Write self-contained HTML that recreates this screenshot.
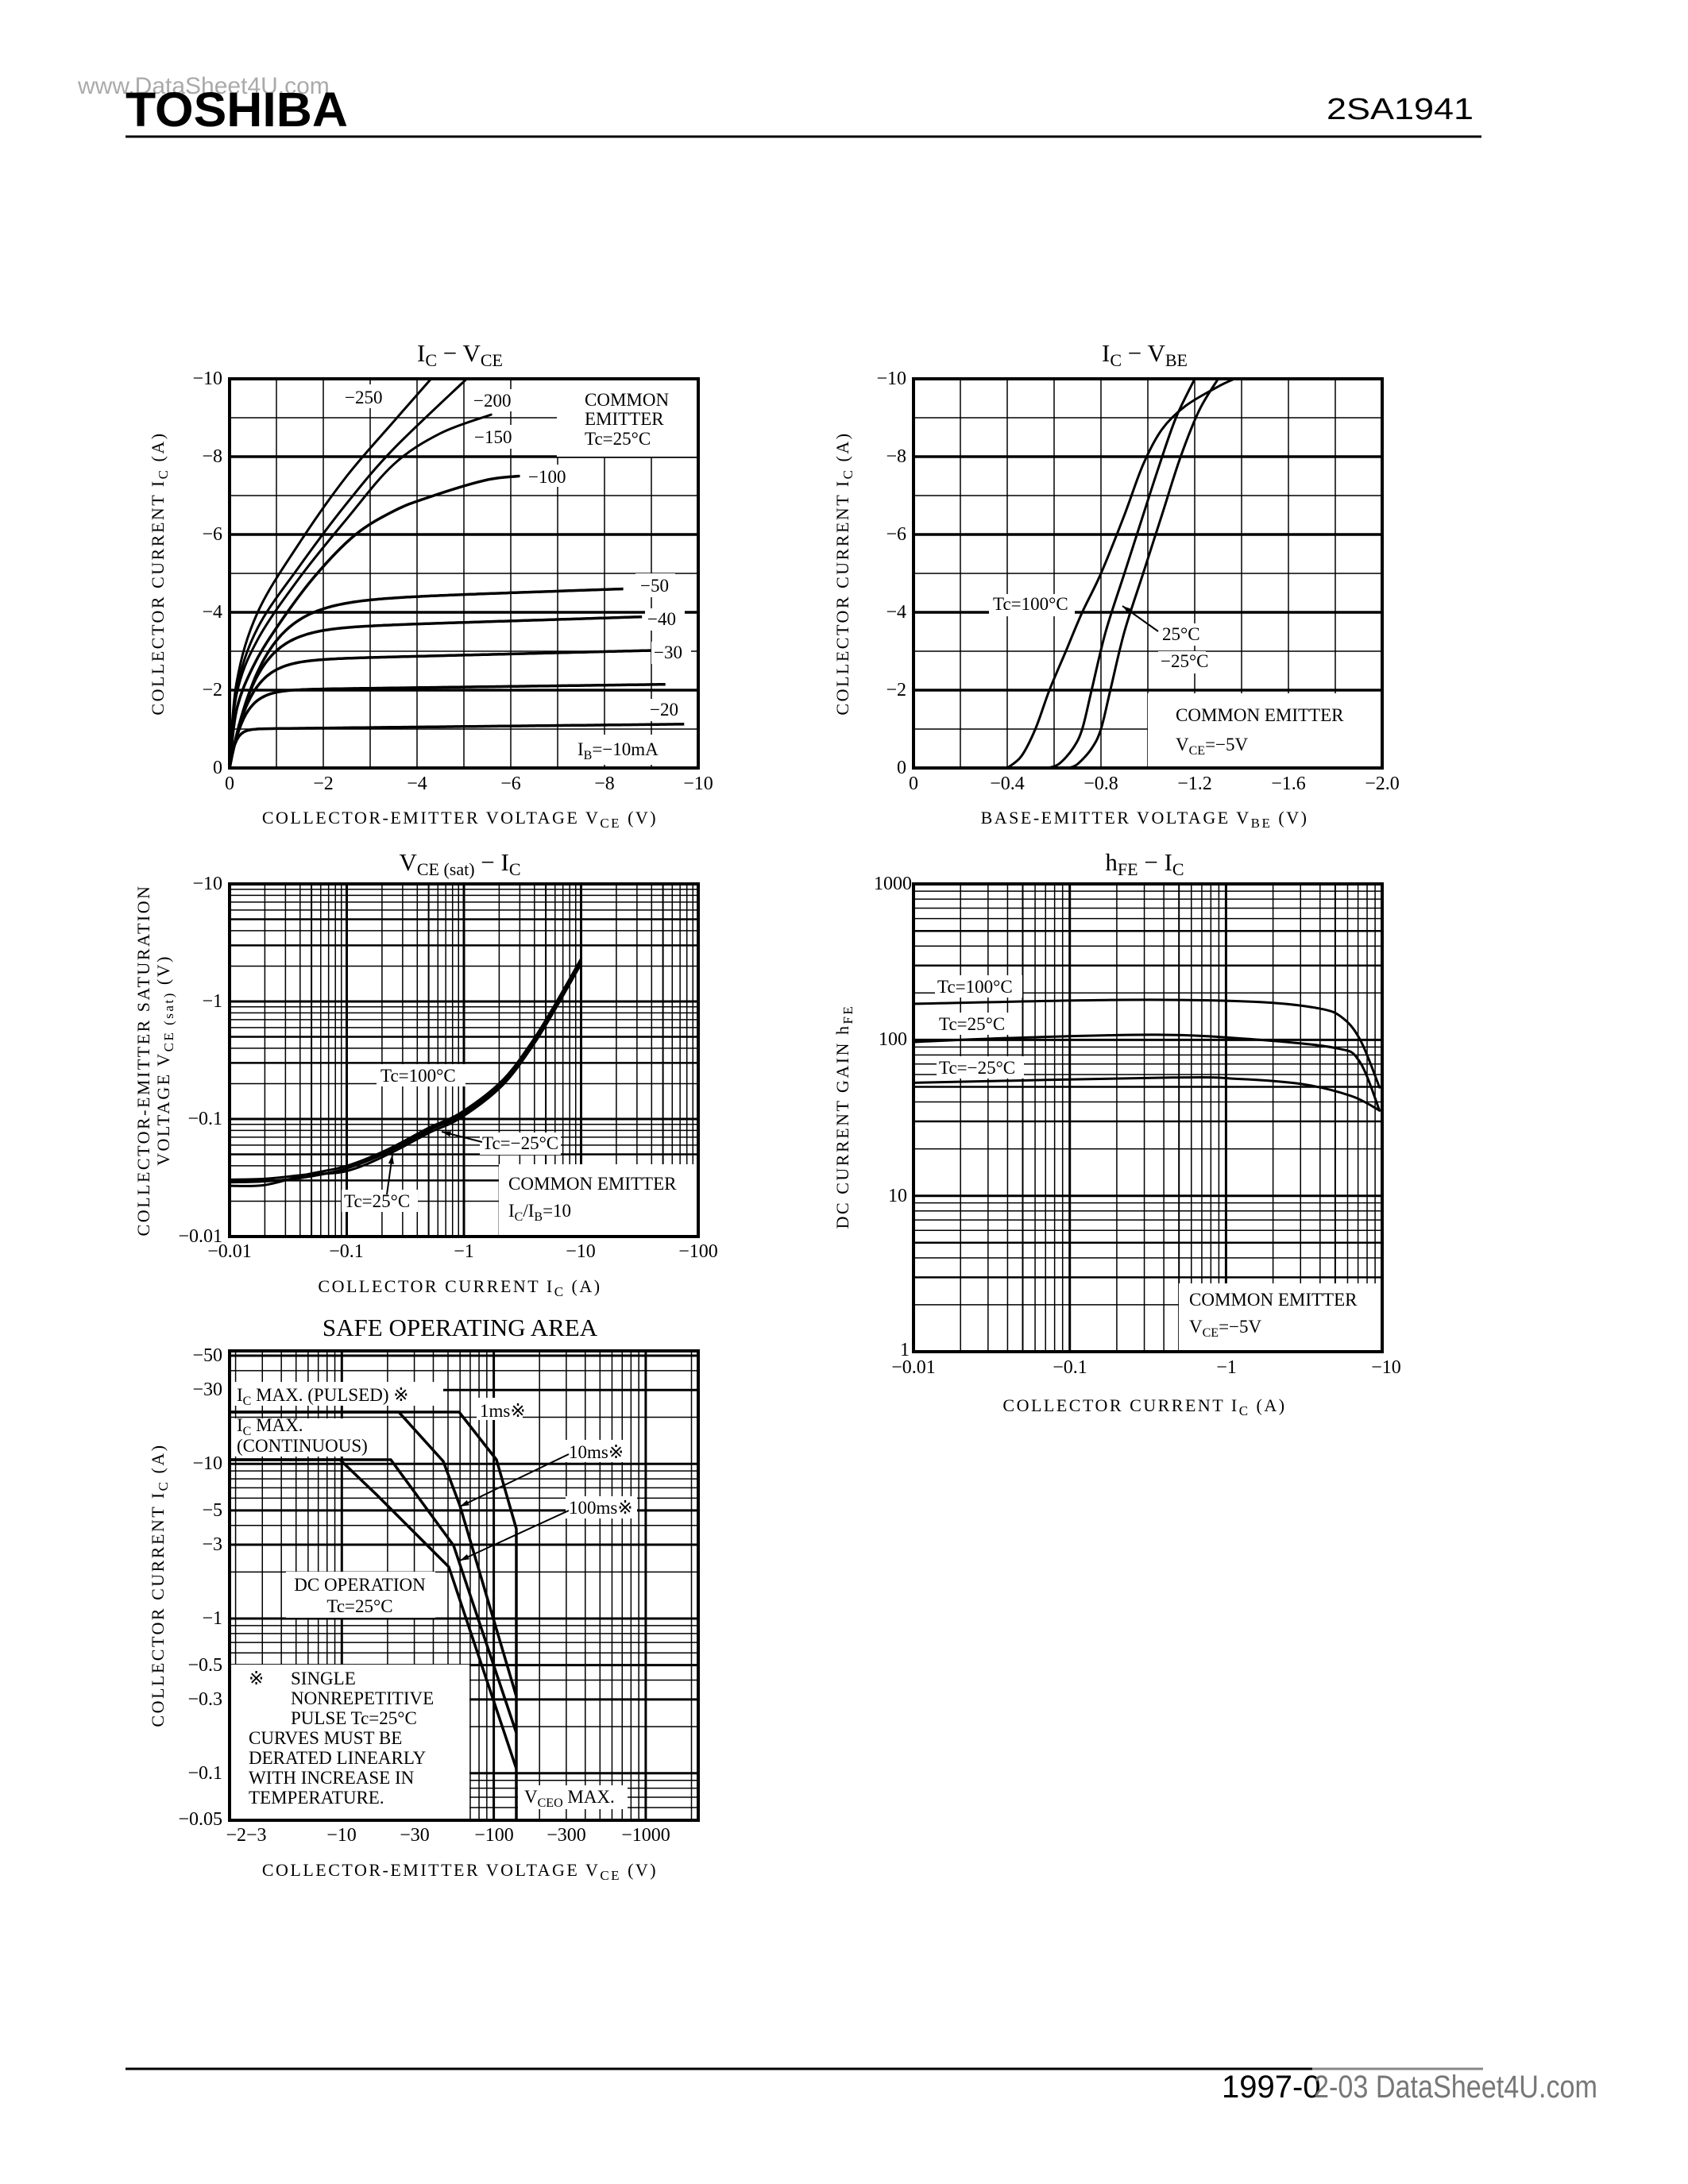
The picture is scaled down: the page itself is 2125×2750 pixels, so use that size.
<!DOCTYPE html>
<html><head><meta charset="utf-8">
<style>
html,body{margin:0;padding:0;background:#fff;}
svg{display:block;}
text{font-family:"Liberation Serif",serif;fill:#000;}
.t{font-size:23px;}
.tk{font-size:24px;}
.ttl{font-size:31px;}
.ax{font-size:22px;letter-spacing:2.5px;}
.sans{font-family:"Liberation Sans",sans-serif;}
</style></head>
<body>
<svg id="s" width="2125" height="2750" viewBox="0 0 2125 2750" xmlns="http://www.w3.org/2000/svg">
<rect width="2125" height="2750" fill="#fff"/>
<g id="g"></g>
<!-- header -->
<text x="98" y="118" class="sans" font-size="30" fill="#aaa" style="fill:#aaa">www.DataSheet4U.com</text>
<text x="158" y="159" class="sans" font-size="61" font-weight="bold" textLength="280" lengthAdjust="spacingAndGlyphs">TOSHIBA</text>
<text x="1670" y="150" class="sans" font-size="38" textLength="185" lengthAdjust="spacingAndGlyphs">2SA1941</text>
<line x1="158" y1="172" x2="1865" y2="172" stroke="#000" stroke-width="3"/>
<!-- footer -->
<line x1="158" y1="2605" x2="1652" y2="2605" stroke="#000" stroke-width="3"/>
<line x1="1652" y1="2605" x2="1867" y2="2605" stroke="#888" stroke-width="3"/>
<text x="1538" y="2641" class="sans" font-size="40">1997-0</text>
<text x="1654" y="2641" class="sans" font-size="40" style="fill:#777" textLength="357" lengthAdjust="spacingAndGlyphs">2-03 DataSheet4U.com</text>

<!-- Plot1 texts -->
<text x="579" y="455" class="ttl" text-anchor="middle">I<tspan font-size="22" dy="6">C</tspan><tspan dy="-6"> − V</tspan><tspan font-size="22" dy="6">CE</tspan></text>
<g class="tk" text-anchor="end">
<text x="280" y="484">−10</text><text x="280" y="582">−8</text><text x="280" y="680">−6</text><text x="280" y="778">−4</text><text x="280" y="876">−2</text><text x="280" y="974">0</text>
</g>
<g class="tk" text-anchor="middle">
<text x="289" y="994">0</text><text x="407" y="994">−2</text><text x="525" y="994">−4</text><text x="643" y="994">−6</text><text x="761" y="994">−8</text><text x="879" y="994">−10</text>
</g>
<text class="ax" text-anchor="middle" x="579" y="1037">COLLECTOR-EMITTER VOLTAGE   V<tspan font-size="17" dy="5">CE</tspan><tspan dy="-5">   (V)</tspan></text>
<text class="ax" text-anchor="middle" transform="translate(206,722) rotate(-90)">COLLECTOR  CURRENT    I<tspan font-size="17" dy="5">C</tspan><tspan dy="-5">    (A)</tspan></text>
<g class="t">
<text x="434" y="508">−250</text><text x="596" y="512">−200</text><text x="597" y="558">−150</text><text x="665" y="608">−100</text>
<text x="736" y="511">COMMON</text><text x="736" y="535">EMITTER</text><text x="736" y="560">Tc=25°C</text>
<text x="806" y="745">−50</text><text x="815" y="787">−40</text><text x="823" y="829">−30</text><text x="818" y="901">−20</text>
<text x="727" y="951">I<tspan font-size="16" dy="5">B</tspan><tspan dy="-5">=−10mA</tspan></text>
</g>

<!-- Plot2 texts -->
<text x="1441" y="455" class="ttl" text-anchor="middle">I<tspan font-size="22" dy="6">C</tspan><tspan dy="-6"> − V</tspan><tspan font-size="22" dy="6">BE</tspan></text>
<g class="tk" text-anchor="end">
<text x="1141" y="484">−10</text><text x="1141" y="582">−8</text><text x="1141" y="680">−6</text><text x="1141" y="778">−4</text><text x="1141" y="876">−2</text><text x="1141" y="974">0</text>
</g>
<g class="tk" text-anchor="middle">
<text x="1150" y="994">0</text><text x="1268" y="994">−0.4</text><text x="1386" y="994">−0.8</text><text x="1504" y="994">−1.2</text><text x="1622" y="994">−1.6</text><text x="1740" y="994">−2.0</text>
</g>
<text class="ax" text-anchor="middle" x="1441" y="1037">BASE-EMITTER VOLTAGE   V<tspan font-size="17" dy="5">BE</tspan><tspan dy="-5">   (V)</tspan></text>
<text class="ax" text-anchor="middle" transform="translate(1068,722) rotate(-90)">COLLECTOR  CURRENT    I<tspan font-size="17" dy="5">C</tspan><tspan dy="-5">    (A)</tspan></text>
<g class="t">
<text x="1250" y="768">Tc=100°C</text><text x="1463" y="806">25°C</text><text x="1461" y="840">−25°C</text>
<text x="1480" y="908">COMMON EMITTER</text>
<text x="1480" y="945">V<tspan font-size="16" dy="5">CE</tspan><tspan dy="-5">=−5V</tspan></text>
</g>

<!-- Plot3 texts -->
<text x="579" y="1096" class="ttl" text-anchor="middle">V<tspan font-size="22" dy="6">CE (sat)</tspan><tspan dy="-6"> − I</tspan><tspan font-size="22" dy="6">C</tspan></text>
<g class="tk" text-anchor="end">
<text x="280" y="1120">−10</text><text x="280" y="1268">−1</text><text x="280" y="1416">−0.1</text><text x="280" y="1564">−0.01</text>
</g>
<g class="tk" text-anchor="middle">
<text x="289" y="1583">−0.01</text><text x="436" y="1583">−0.1</text><text x="584" y="1583">−1</text><text x="731" y="1583">−10</text><text x="879" y="1583">−100</text>
</g>
<text class="ax" text-anchor="middle" x="579" y="1627">COLLECTOR CURRENT   I<tspan font-size="17" dy="5">C</tspan><tspan dy="-5">   (A)</tspan></text>
<text class="ax" text-anchor="middle" transform="translate(188,1335) rotate(-90)">COLLECTOR-EMITTER SATURATION</text>
<text class="ax" text-anchor="middle" transform="translate(213,1335) rotate(-90)">VOLTAGE    V<tspan font-size="17" dy="5">CE (sat)</tspan><tspan dy="-5">    (V)</tspan></text>
<g class="t">
<text x="479" y="1362">Tc=100°C</text>
<text x="607" y="1447">Tc=−25°C</text>
<text x="433" y="1520">Tc=25°C</text>
<text x="640" y="1498">COMMON EMITTER</text>
<text x="640" y="1532">I<tspan font-size="16" dy="5">C</tspan><tspan dy="-5">/I</tspan><tspan font-size="16" dy="5">B</tspan><tspan dy="-5">=10</tspan></text>
</g>

<!-- Plot4 texts -->
<text x="1441" y="1096" class="ttl" text-anchor="middle">h<tspan font-size="22" dy="6">FE</tspan><tspan dy="-6"> − I</tspan><tspan font-size="22" dy="6">C</tspan></text>
<g class="tk" text-anchor="end">
<text x="1148" y="1120">1000</text><text x="1142" y="1316">100</text><text x="1142" y="1513">10</text><text x="1145" y="1707">1</text>
</g>
<g class="tk" text-anchor="middle">
<text x="1150" y="1729">−0.01</text><text x="1347" y="1729">−0.1</text><text x="1544" y="1729">−1</text><text x="1745" y="1729">−10</text>
</g>
<text class="ax" text-anchor="middle" x="1441" y="1777">COLLECTOR CURRENT   I<tspan font-size="17" dy="5">C</tspan><tspan dy="-5">   (A)</tspan></text>
<text class="ax" text-anchor="middle" transform="translate(1068,1406) rotate(-90)">DC CURRENT GAIN    h<tspan font-size="17" dy="5">FE</tspan></text>
<g class="t">
<text x="1180" y="1250">Tc=100°C</text><text x="1182" y="1297">Tc=25°C</text><text x="1182" y="1352">Tc=−25°C</text>
<text x="1497" y="1644">COMMON EMITTER</text>
<text x="1497" y="1678">V<tspan font-size="16" dy="5">CE</tspan><tspan dy="-5">=−5V</tspan></text>
</g>

<!-- Plot5 texts -->
<text x="579" y="1682" class="ttl" text-anchor="middle">SAFE OPERATING AREA</text>
<g class="tk" text-anchor="end">
<text x="280" y="1714">−50</text><text x="280" y="1757">−30</text><text x="280" y="1850">−10</text><text x="280" y="1909">−5</text><text x="280" y="1952">−3</text><text x="280" y="2045">−1</text><text x="280" y="2104">−0.5</text><text x="280" y="2147">−0.3</text><text x="280" y="2240">−0.1</text><text x="280" y="2298">−0.05</text>
</g>
<g class="tk" text-anchor="middle">
<text x="310" y="2318">−2−3</text><text x="430" y="2318">−10</text><text x="522" y="2318">−30</text><text x="622" y="2318">−100</text><text x="713" y="2318">−300</text><text x="813" y="2318">−1000</text>
</g>
<text class="ax" text-anchor="middle" x="579" y="2362">COLLECTOR-EMITTER VOLTAGE   V<tspan font-size="17" dy="5">CE</tspan><tspan dy="-5">   (V)</tspan></text>
<text class="ax" text-anchor="middle" transform="translate(206,1996) rotate(-90)">COLLECTOR  CURRENT    I<tspan font-size="17" dy="5">C</tspan><tspan dy="-5">    (A)</tspan></text>
<g class="t">
<text x="298" y="1764">I<tspan font-size="16" dy="5">C</tspan><tspan dy="-5"> MAX. (PULSED) ※</tspan></text>
<text x="604" y="1784">1ms※</text>
<text x="298" y="1802">I<tspan font-size="16" dy="5">C</tspan><tspan dy="-5"> MAX.</tspan></text>
<text x="298" y="1828">(CONTINUOUS)</text>
<text x="716" y="1836">10ms※</text>
<text x="716" y="1906">100ms※</text>
<text x="453" y="2003" text-anchor="middle">DC OPERATION</text>
<text x="453" y="2030" text-anchor="middle">Tc=25°C</text>
<text x="313" y="2121">※</text><text x="366" y="2121">SINGLE</text>
<text x="366" y="2146">NONREPETITIVE</text>
<text x="366" y="2171">PULSE Tc=25°C</text>
<text x="313" y="2196">CURVES MUST BE</text>
<text x="313" y="2221">DERATED LINEARLY</text>
<text x="313" y="2246">WITH INCREASE IN</text>
<text x="313" y="2271">TEMPERATURE.</text>
<text x="660" y="2270">V<tspan font-size="16" dy="5">CEO</tspan><tspan dy="-5"> MAX.</tspan></text>
</g>
</svg>
<script>
(function(){
var o=[];
function L(x1,y1,x2,y2,w){o.push('<line x1="'+x1+'" y1="'+y1+'" x2="'+x2+'" y2="'+y2+'" stroke="#000" stroke-width="'+w+'"/>');}
function R(x,y,w,h){o.push('<rect x="'+x+'" y="'+y+'" width="'+w+'" height="'+h+'" fill="#fff"/>');}
function box(x0,y0,x1,y1){o.push('<rect x="'+x0+'" y="'+y0+'" width="'+(x1-x0)+'" height="'+(y1-y0)+'" fill="none" stroke="#000" stroke-width="4"/>');}
function smooth(p,w){
 var d='M'+p[0][0].toFixed(1)+','+p[0][1].toFixed(1);
 for(var i=0;i<p.length-1;i++){
  var p0=p[i-1]||p[i],p1=p[i],p2=p[i+1],p3=p[i+2]||p2;
  var c1=[p1[0]+(p2[0]-p0[0])/6,p1[1]+(p2[1]-p0[1])/6],c2=[p2[0]-(p3[0]-p1[0])/6,p2[1]-(p3[1]-p1[1])/6];
  d+=' C'+c1[0].toFixed(1)+','+c1[1].toFixed(1)+' '+c2[0].toFixed(1)+','+c2[1].toFixed(1)+' '+p2[0].toFixed(1)+','+p2[1].toFixed(1);
 }
 o.push('<path d="'+d+'" fill="none" stroke="#000" stroke-width="'+w+'" stroke-linejoin="round" stroke-linecap="round"/>');
}
function poly(p,w){o.push('<polyline points="'+p.map(function(a){return a[0].toFixed(1)+','+a[1].toFixed(1)}).join(' ')+'" fill="none" stroke="#000" stroke-width="'+w+'" stroke-linejoin="round"/>');}
function arrow(x1,y1,x2,y2){L(x1,y1,x2,y2,2);var a=Math.atan2(y2-y1,x2-x1),s=12;
 o.push('<polygon points="'+x2+','+y2+' '+(x2-s*Math.cos(a-0.3))+','+(y2-s*Math.sin(a-0.3))+' '+(x2-s*Math.cos(a+0.3))+','+(y2-s*Math.sin(a+0.3))+'" fill="#000"/>');}
var lg=Math.log10;
var X1=function(v){return 289+59*v},Y1=function(i){return 967-49*i};
for(var k=1;k<10;k++){L(X1(k),477,X1(k),967,1.5);L(289,Y1(k),879,Y1(k),k%2?1.5:3.5);}
R(701,479,176,96);R(430,484,60,30);R(592,490,58,28);R(594,535,60,30);R(660,585,62,28);R(800,722,50,30);R(812,766,50,28);R(820,808,50,28);R(815,880,50,28);R(722,925,150,38);
function ibc(A,tau,s,end){var p=[];for(var v=0;v<=end+0.001;v+=0.05){p.push([X1(v),Y1(A*(1-Math.exp(-v/tau))+s*v)]);}poly(p,3.5);}
ibc(1.0,0.12,0.013,9.7);ibc(2.0,0.3,0.016,9.3);ibc(2.75,0.42,0.03,9.0);ibc(3.55,0.55,0.038,8.8);ibc(4.25,0.7,0.042,8.4);
function dc(pts,w){smooth(pts.map(function(a){return [X1(a[0]),Y1(a[1])]}),w)}
dc([[0,0],[0.15,1.5],[0.5,2.6],[1,3.6],[1.8,4.9],[2.67,5.98],[3.5,6.6],[4.23,6.95],[5.44,7.39],[6.17,7.5]],3.5);
dc([[0,0],[0.15,1.9],[0.6,3.3],[1.5,4.9],[2.5,6.4],[3.5,7.8],[4.5,8.6],[5.58,9.08]],3);
dc([[0,0],[0.15,2.0],[0.6,3.6],[1.5,5.2],[2.5,6.8],[3.5,8.2],[5.06,10]],3);
dc([[0,0],[0.15,2.2],[0.6,4],[1.5,5.8],[2.5,7.5],[3.5,8.9],[4.3,10]],3);
box(289,477,879,967);
var X2=function(v){return 1150+295*v},Y2=Y1;
for(k=1;k<10;k++){L(1150+59*k,477,1150+59*k,967,1.5);L(1150,Y2(k),1740,Y2(k),k%2?1.5:3.5);}
R(1445,873,294,93);R(1245,748,108,28);R(1458,785,55,28);R(1458,820,60,28);
function dc2(pts){smooth(pts.map(function(a){return [X2(a[0]),Y2(a[1])]}),3)}
L(1150,967,X2(0.4),967,3.5);
dc2([[0.4,0],[0.46,0.3],[0.52,1],[0.58,2],[0.65,3],[0.72,4],[0.8,5],[0.9,6.5],[0.98,7.8],[1.06,8.7],[1.16,9.3],[1.3,9.8],[1.37,10]]);
dc2([[0.57,0],[0.62,0.1],[0.68,0.5],[0.72,1],[0.76,2],[0.82,3.5],[0.9,5],[0.98,6.5],[1.05,7.8],[1.12,9],[1.2,10]]);
dc2([[0.66,0],[0.7,0.1],[0.76,0.5],[0.8,1],[0.84,2],[0.9,3.5],[0.98,5],[1.06,6.5],[1.14,8],[1.22,9.2],[1.3,10]]);
arrow(1458,795,1413,763);
box(1150,477,1740,967);
function logGridX(X,y0,y1,a,b){for(var d=a;d<b;d++)for(var m=1;m<10;m++){var v=m*Math.pow(10,d);var x=X(v);L(x,y0,x,y1,m==1?3:(m==5?2:1.5));}}
function logGridY(Y,x0,x1,a,b){for(var d=a;d<b;d++)for(var m=1;m<10;m++){var v=m*Math.pow(10,d);var y=Y(v);L(x0,y,x1,y,m==1?3:((m==3||m==5)?2.5:1.5));}}
var X3=function(c){return 289+147.5*(lg(c)+2)},Y3=function(v){return 1557-148*(lg(v)+2)};
logGridX(X3,1113,1557,-2,2);logGridY(Y3,289,879,-2,1);
R(628,1466,250,90);R(474,1340,112,28);R(604,1426,102,28);R(430,1498,96,28);
function c3(pts,dy){smooth(pts.map(function(a){return [X3(a[0]),Y3(a[1])+dy]}),3)}
var base=[[0.01,0.029],[0.02,0.0295],[0.045,0.032],[0.1,0.038],[0.22,0.052],[0.5,0.08],[0.93,0.107],[2.1,0.2],[3.8,0.43],[6,0.9],[10,2.2]];
c3(base,0);c3(base.map(function(a){return [a[0],a[1]*(a[0]<0.05?1.05:0.95)]}),0);c3(base.map(function(a){return [a[0],a[1]*(a[0]<0.04?0.93:1.05)]}),0);
arrow(607,1438,556,1425);arrow(487,1504,494,1454);
box(289,1113,879,1557);
var X4=function(c){return 1150+196.7*(lg(c)+2)},Y4=function(h){return 1702-196.3*lg(h)};
logGridX(X4,1113,1702,-2,1);logGridY(Y4,1150,1740,0,3);
R(1484,1616,255,85);R(1177,1228,110,28);R(1179,1275,100,28);R(1179,1330,110,28);
function z(x,y){return [150+x/0.98,1050+y/1.206]}
function c4(pts){smooth(pts.map(function(a){return z(a[0],a[1])}),3)}
c4([[980,258],[1240,252],[1400,255],[1480,265],[1510,280],[1532,315],[1555,385]]);
c4([[980,316],[1100,310],[1280,305],[1400,312],[1500,325],[1530,345],[1555,420]]);
c4([[980,378],[1300,370],[1380,372],[1460,380],[1520,398],[1555,420]]);
box(1150,1113,1740,1702);
var X5=function(v){return 239+191.3*lg(v)},Y5=function(i){return 2038-194.8*lg(i)};
for(var d=0;d<4;d++)for(var m=1;m<10;m++){var v=m*Math.pow(10,d);var x=X5(v);if(x>290&&x<878)L(x,1701,x,2292,m==1?3:1.5);}
for(d=-2;d<2;d++)for(m=1;m<10;m++){v=m*Math.pow(10,d);var y=Y5(v);if(y>1702&&y<2291)L(289,y,879,y,m==1?3:((m==3||m==5)?3:1.5));}
R(290,1740,268,30);R(600,1760,58,28);R(290,1786,168,48);R(712,1813,80,28);R(712,1884,90,28);R(360,1979,188,58);R(290,2096,301,195);R(652,2248,138,30);
poly([[289,1778],[578,1778],[625,1838],[650,1925],[650,2292]],3.5);
poly([[289,1778],[502,1778],[558,1840],[579,1896],[650,2136]],3.5);
poly([[289,1838],[492,1838],[571,1946],[650,2182]],3.5);
poly([[289,1838],[428,1838],[474,1882],[565,1973],[650,2227]],3.5);
arrow(716,1831,579,1897);arrow(716,1902,579,1965);
box(289,1701,879,2292);
document.getElementById('g').innerHTML=o.join('');
})();
</script>
</body></html>
